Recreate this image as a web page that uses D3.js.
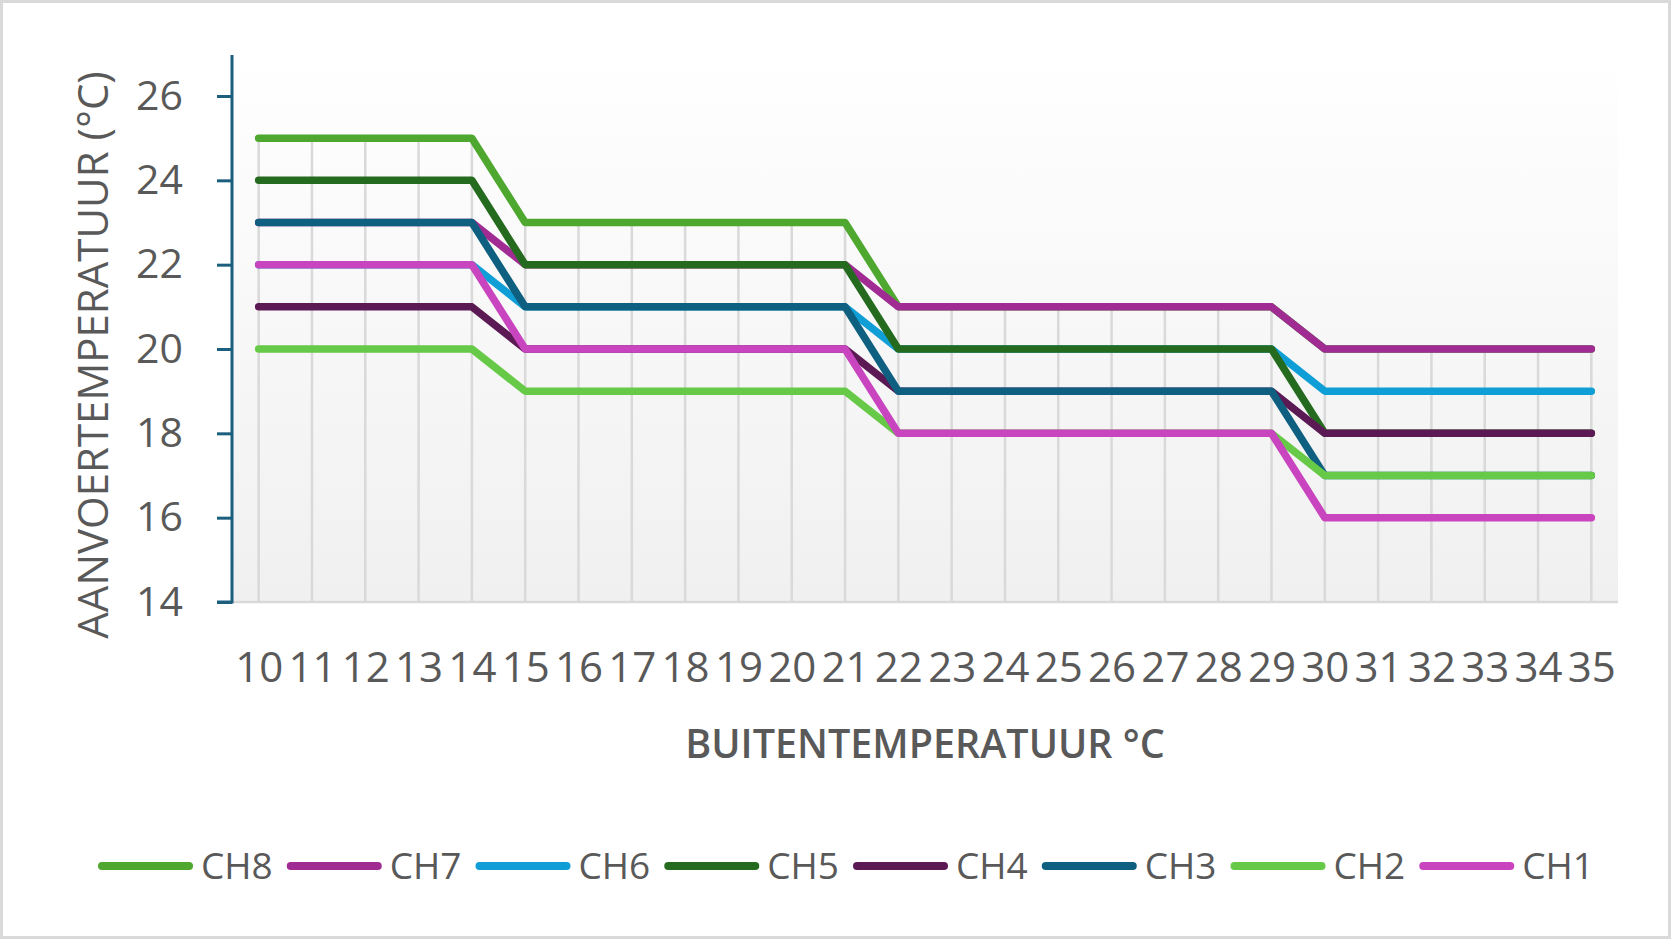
<!DOCTYPE html>
<html>
<head>
<meta charset="utf-8">
<script src="https://cdn.jsdelivr.net/npm/d3@7"></script>
<style>
  html, body { margin: 0; padding: 0; background: #fff; }
  svg { display: block; }
  text { font-family: "Open Sans", "Noto Sans", sans-serif; fill: #595959; }
</style>
</head>
<body>
<svg id="chart" width="1671" height="939"></svg>
<script>
// ---- data ----
const categories = [10,11,12,13,14,15,16,17,18,19,20,21,22,23,24,25,26,27,28,29,30,31,32,33,34,35];
const CH8 = [25,25,25,25,25,23,23,23,23,23,23,23,21,21,21,21,21,21,21,21,20,20,20,20,20,20];
const CH7 = [23,23,23,23,23,22,22,22,22,22,22,22,21,21,21,21,21,21,21,21,20,20,20,20,20,20];
const CH6 = [22,22,22,22,22,21,21,21,21,21,21,21,20,20,20,20,20,20,20,20,19,19,19,19,19,19];
const CH5 = [24,24,24,24,24,22,22,22,22,22,22,22,20,20,20,20,20,20,20,20,18,18,18,18,18,18];
const CH4 = [21,21,21,21,21,20,20,20,20,20,20,20,19,19,19,19,19,19,19,19,18,18,18,18,18,18];
const CH3 = [23,23,23,23,23,21,21,21,21,21,21,21,19,19,19,19,19,19,19,19,17,17,17,17,17,17];
const CH2 = [20,20,20,20,20,19,19,19,19,19,19,19,18,18,18,18,18,18,18,18,17,17,17,17,17,17];
const CH1 = [22,22,22,22,22,20,20,20,20,20,20,20,18,18,18,18,18,18,18,18,16,16,16,16,16,16];
const seriesNames = ["CH8","CH7","CH6","CH5","CH4","CH3","CH2","CH1"];
const seriesValues = [CH8, CH7, CH6, CH5, CH4, CH3, CH2, CH1];
const seriesColors = ["#4ea72e","#a02b93","#0f9ed5","#256b1f","#5c1a54","#0e5f80","#66c947","#c944bf"];
const yTicks = [14,16,18,20,22,24,26];
const yTitle = "AANVOERTEMPERATUUR (°C)";
const xTitle = "BUITENTEMPERATUUR °C";

// ---- layout ----
const W = 1671, H = 939;
const plot = { left: 232, right: 1618, top: 55, bottom: 602 };

const svg = d3.select("#chart");

// outer border
svg.append("rect").attr("x", 1.5).attr("y", 1.5).attr("width", W - 3).attr("height", H - 3)
  .attr("fill", "#fff").attr("stroke", "#d9d9d9").attr("stroke-width", 3);

const x = d3.scalePoint().domain(categories).range([plot.left, plot.right]).padding(0.5);
const y = d3.scaleLinear().domain([14, 26]).range([602, 96]);

// plot background gradient
const defs = svg.append("defs");
const grad = defs.append("linearGradient").attr("id", "bg").attr("x1", 0).attr("y1", 0).attr("x2", 0).attr("y2", 1);
grad.append("stop").attr("offset", "0%").attr("stop-color", "#ffffff");
grad.append("stop").attr("offset", "100%").attr("stop-color", "#f0f0f0");
svg.append("rect").attr("x", plot.left).attr("y", plot.top)
  .attr("width", plot.right - plot.left).attr("height", plot.bottom - plot.top)
  .attr("fill", "url(#bg)");

// drop lines (from highest point to axis)
const maxPerCat = categories.map((c, i) => d3.max(seriesValues, s => s[i]));
svg.append("g").selectAll("line").data(categories).join("line")
  .attr("x1", d => x(d)).attr("x2", d => x(d))
  .attr("y1", (d, i) => y(maxPerCat[i])).attr("y2", y(14))
  .attr("stroke", "#d9d9d9").attr("stroke-width", 2.5);

// x axis baseline
svg.append("line").attr("x1", plot.left).attr("x2", plot.right)
  .attr("y1", y(14)).attr("y2", y(14)).attr("stroke", "#d9d9d9").attr("stroke-width", 2.5);

// lines
const line = d3.line().x((d, i) => x(categories[i])).y(d => y(d));
svg.append("g").selectAll("path").data(seriesValues).join("path")
  .attr("d", d => line(d))
  .attr("fill", "none")
  .attr("stroke", (d, i) => seriesColors[i])
  .attr("stroke-width", 7.5)
  .attr("stroke-linecap", "round")
  .attr("stroke-linejoin", "round");

// y axis
const yAxis = d3.axisLeft(y).tickValues(yTicks).tickSize(15).tickPadding(34).tickFormat(d3.format("d"));
const yg = svg.append("g").attr("transform", `translate(${plot.left},0)`).call(yAxis);
yg.select(".domain").attr("d", `M-15,${y(14)}H0V${plot.top}`).attr("stroke", "#1b5e7e").attr("stroke-width", 3).attr("fill", "none");
yg.selectAll(".tick line").attr("stroke", "#1b5e7e").attr("stroke-width", 3);
yg.selectAll(".tick text").attr("font-size", 41).attr("fill", "#595959")
  .style("font-family", '"Open Sans", sans-serif');

// x axis labels
const xAxis = d3.axisBottom(x).tickSize(0).tickPadding(0);
const xg = svg.append("g").attr("transform", `translate(0,${y(14)})`).call(xAxis);
xg.select(".domain").remove();
xg.selectAll(".tick text").attr("font-size", 42).attr("fill", "#595959")
  .attr("dy", null).attr("y", 80)
  .style("font-family", '"Open Sans", sans-serif');

// axis titles
svg.append("text").attr("x", (plot.left + plot.right) / 2).attr("y", 758)
  .attr("text-anchor", "middle").attr("font-size", 39.5).attr("font-weight", 600)
  .text(xTitle);
svg.append("text").attr("transform", "translate(108,355) rotate(-90)")
  .attr("text-anchor", "middle").attr("font-size", 42)
  .text(yTitle);

// legend
const leg = svg.append("g");
let lx = 98;
const ly = 866;
seriesNames.forEach((name, i) => {
  leg.append("line").attr("x1", lx + 4).attr("x2", lx + 91).attr("y1", ly).attr("y2", ly)
    .attr("stroke", seriesColors[i]).attr("stroke-width", 8).attr("stroke-linecap", "round");
  const t = leg.append("text").attr("x", lx + 103).attr("y", ly + 13)
    .attr("font-size", 37).text(name);
  lx += 103 + t.node().getComputedTextLength() + 14;
});
</script>
</body>
</html>
